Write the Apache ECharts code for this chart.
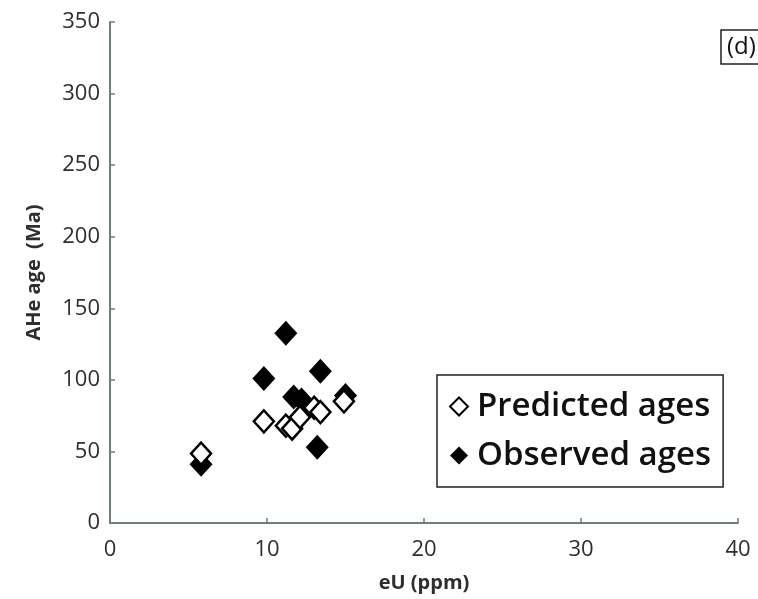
<!DOCTYPE html>
<html>
<head>
<meta charset="utf-8">
<script src="https://cdn.jsdelivr.net/npm/echarts@6/dist/echarts.min.js"></script>
<style>
  html, body { margin: 0; padding: 0; background: #fff; }
  #chart { width: 758px; height: 599px; }
</style>
</head>
<body>
<div id="chart"></div>
<script>
// eU concentration (ppm) and AHe ages (Ma)
const predictedEU  = [5.8, 9.8, 11.2, 11.6, 12.1, 13.0, 13.4, 14.9];
const predictedAge = [48.5, 71, 68, 66, 74, 80.5, 77.5, 85];
const observedEU   = [5.8, 9.8, 11.2, 11.7, 12.2, 13.4, 13.2, 15.0];
const observedAge  = [41, 101, 132.5, 88, 86, 106, 53, 89];

const xTicks = [0, 10, 20, 30, 40];
const yTicks = [0, 50, 100, 150, 200, 250, 300, 350];

const pairs = (xs, ys) => xs.map((x, i) => [x, ys[i]]);

const axisColor = '#6f7f7f';
const labelColor = '#2e2e2e';
const font = '"Open Sans", "DejaVu Sans", sans-serif';

const chart = echarts.init(document.getElementById('chart'), null, { renderer: 'canvas' });

chart.setOption({
  backgroundColor: '#ffffff',
  animation: false,
  grid: { left: 110, right: 20, top: 22, bottom: 76, containLabel: false },
  xAxis: {
    type: 'value',
    min: xTicks[0],
    max: xTicks[xTicks.length - 1],
    interval: 10,
    name: 'eU (ppm)',
    nameLocation: 'middle',
    nameGap: 50,
    nameTextStyle: { fontFamily: font, fontWeight: 'bold', fontSize: 20, color: labelColor },
    axisLine: { lineStyle: { color: axisColor, width: 2 } },
    axisTick: { inside: true, length: 5, lineStyle: { color: axisColor, width: 1.5 } },
    axisLabel: { fontFamily: font, fontSize: 22, color: labelColor, margin: 16 },
    splitLine: { show: false }
  },
  yAxis: {
    type: 'value',
    min: yTicks[0],
    max: yTicks[yTicks.length - 1],
    interval: 50,
    name: 'AHe age  (Ma)',
    nameLocation: 'middle',
    nameGap: 66,
    nameRotate: 90,
    nameTextStyle: { fontFamily: font, fontWeight: 'bold', fontSize: 20, color: labelColor },
    axisLine: { show: true, lineStyle: { color: axisColor, width: 2 } },
    axisTick: { show: true, inside: true, length: 5, lineStyle: { color: axisColor, width: 1.5 } },
    axisLabel: { fontFamily: font, fontSize: 22, color: labelColor, margin: 10 },
    splitLine: { show: false }
  },
  legend: {
    orient: 'vertical',
    left: 437,
    top: 375,
    padding: [15, 12, 15, 12],
    itemGap: 16,
    itemWidth: 18,
    itemHeight: 18,
    borderColor: '#222',
    borderWidth: 1.5,
    backgroundColor: '#fff',
    textStyle: { fontFamily: font, fontWeight: 600, fontSize: 33, color: '#111', padding: [0, 0, 0, 4] },
    data: ['Predicted ages', 'Observed ages']
  },
  series: [
    {
      name: 'Observed ages',
      type: 'scatter',
      symbol: 'diamond',
      symbolSize: [23, 25],
      z: 2,
      itemStyle: { color: '#000', opacity: 1 },
      data: pairs(observedEU, observedAge)
    },
    {
      name: 'Predicted ages',
      type: 'scatter',
      symbol: 'diamond',
      symbolSize: [20, 22],
      z: 3,
      itemStyle: { color: '#fff', borderColor: '#000', borderWidth: 2.5, opacity: 1 },
      data: pairs(predictedEU, predictedAge)
    }
  ],
  graphic: [
    {
      type: 'rect',
      shape: { x: 721, y: 30, width: 60, height: 34 },
      style: { fill: '#fff', stroke: '#222', lineWidth: 1.5 }
    },
    {
      type: 'text',
      x: 727,
      y: 47,
      style: { text: '(d)', font: '24px ' + font, fill: '#111', textVerticalAlign: 'middle' }
    }
  ]
});
</script>
</body>
</html>
